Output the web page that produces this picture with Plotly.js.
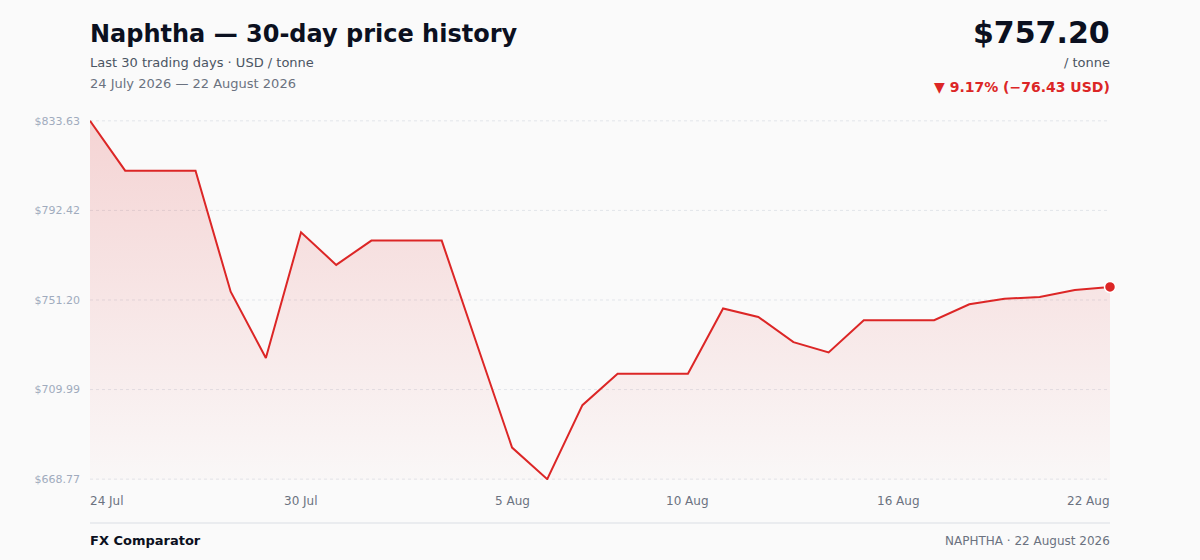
<!DOCTYPE html>
<html>
<head>
<meta charset="utf-8">
<script src="https://cdn.plot.ly/plotly-3.0.1.min.js"></script>
<style>
html,body{margin:0;padding:0;background:#fafafa;}
#chart{width:1200px;height:560px;}
</style>
</head>
<body>
<div id="chart"></div>
<script>
// ---- data ----
const dates = [
  '2026-07-24','2026-07-25','2026-07-26','2026-07-27','2026-07-28','2026-07-29',
  '2026-07-30','2026-07-31','2026-08-01','2026-08-02','2026-08-03','2026-08-04',
  '2026-08-05','2026-08-06','2026-08-07','2026-08-08','2026-08-09','2026-08-10',
  '2026-08-11','2026-08-12','2026-08-13','2026-08-14','2026-08-15','2026-08-16',
  '2026-08-17','2026-08-18','2026-08-19','2026-08-20','2026-08-21','2026-08-22'
];
const prices = [
  833.63, 810.73, 810.73, 810.73, 755.00, 724.50,
  782.34, 767.37, 778.54, 778.54, 778.54, 730.82,
  683.29, 668.77, 702.80, 717.31, 717.31, 717.31,
  747.31, 743.42, 731.83, 727.07, 741.90, 741.90,
  741.90, 749.23, 751.80, 752.57, 755.78, 757.20
];
const yTickVals = [668.77, 709.99, 751.20, 792.42, 833.63];
const yTickText = ['$668.77', '$709.99', '$751.20', '$792.42', '$833.63'];
const xTickVals = ['2026-07-24', '2026-07-30', '2026-08-05', '2026-08-10', '2026-08-16', '2026-08-22'];
const xTickText = ['24 Jul', '30 Jul', '5 Aug', '10 Aug', '16 Aug', '22 Aug'];

// ---- derived text ----
const first = prices[0], last = prices[prices.length - 1];
const diff = last - first;
const pct = Math.abs(diff / first * 100);
const changeText = (diff < 0 ? '▼ ' : '▲ ') + pct.toFixed(2) + '% (' + (diff < 0 ? '−' : '+') + Math.abs(diff).toFixed(2) + ' USD)';

const RED = '#dc2626';
const FONT = 'DejaVu Sans, Verdana, sans-serif';

const traces = [
  {
    x: dates, y: prices, type: 'scatter', mode: 'lines',
    line: {color: RED, width: 2, shape: 'linear'},
    fill: 'tozeroy',
    fillgradient: {
      type: 'vertical', start: 655, stop: 833.63,
      colorscale: [[0, 'rgba(220,38,38,0.0)'], [1, 'rgba(220,38,38,0.18)']]
    },
    hoverinfo: 'skip', showlegend: false
  },
  {
    x: [dates[dates.length - 1]], y: [last], type: 'scatter', mode: 'markers',
    marker: {color: RED, size: 11, line: {color: '#ffffff', width: 1.5}},
    cliponaxis: false, hoverinfo: 'skip', showlegend: false
  }
];

const ann = [];
function txt(text, x, y, xanchor, size, color, bold) {
  ann.push({
    text: bold ? '<b>' + text + '</b>' : text,
    xref: 'paper', yref: 'paper', x: x, y: y,
    xanchor: xanchor, yanchor: 'middle', showarrow: false,
    borderpad: 0, borderwidth: 0,
    font: {family: FONT, size: size, color: color}
  });
}
// header
txt('Last 30 trading days · USD / tonne', 0, 1.1611, 'left', 13, '#4b5563', false);
txt('24 July 2026 — 22 August 2026', 0, 1.1000, 'left', 13, '#6b7280', false);
txt('$' + last.toFixed(2), 1, 1.2444, 'right', 30, '#0b1020', true);
txt('/ tonne', 1, 1.1611, 'right', 13, '#4b5563', false);
txt(changeText, 1, 1.0917, 'right', 14, RED, true);
// footer
txt('FX Comparator', 0, -0.1694, 'left', 13, '#0b1020', true);
txt('NAPHTHA · 22 August 2026', 1, -0.1694, 'right', 12, '#6b7280', false);
// x tick labels
xTickVals.forEach((v, i) => {
  ann.push({
    text: xTickText[i], xref: 'x', yref: 'paper', x: v, y: -0.0583,
    xanchor: i === 0 ? 'left' : (i === xTickVals.length - 1 ? 'right' : 'center'),
    yanchor: 'middle', showarrow: false, borderpad: 0, borderwidth: 0,
    font: {family: FONT, size: 12, color: '#6b7280'}
  });
});

// dotted horizontal gridlines at every y tick (including range ends)
const shapes = yTickVals.map(v => ({
  type: 'line', xref: 'paper', yref: 'y', x0: 0, x1: 1, y0: v, y1: v,
  layer: 'below', line: {color: '#e2e5ea', width: 1, dash: 'dot'}
}));
shapes.push({
  type: 'line', xref: 'paper', yref: 'paper', x0: 0, x1: 1,
  y0: -0.1194, y1: -0.1194, line: {color: '#e5e7eb', width: 1.5}
});

const layout = {
  width: 1200, height: 560,
  paper_bgcolor: '#fafafa', plot_bgcolor: '#fafafa',
  margin: {l: 90, r: 90, t: 120, b: 80, pad: 0},
  font: {family: FONT},
  title: {
    text: '<b>Naphtha — 30-day price history</b>',
    x: 90 / 1200, xref: 'container', xanchor: 'left',
    y: 1 - 34 / 560, yref: 'container', yanchor: 'middle',
    font: {family: FONT, size: 24, color: '#0b1020'}
  },
  xaxis: {
    type: 'date', range: [dates[0], dates[dates.length - 1]],
    showgrid: false, zeroline: false, showline: false,
    showticklabels: false, ticks: '', fixedrange: true
  },
  yaxis: {
    range: [yTickVals[0] - 0.4, yTickVals[yTickVals.length - 1] + 0.4],
    tickmode: 'array', tickvals: yTickVals, ticktext: yTickText,
    showgrid: false,
    zeroline: false, showline: false, ticks: '',
    tickfont: {family: FONT, size: 11, color: '#a0abbd'},
    ticklabelstandoff: 9, fixedrange: true
  },
  shapes: shapes,
  annotations: ann,
  showlegend: false
};

Plotly.newPlot('chart', traces, layout, {displayModeBar: false, staticPlot: true});
</script>
</body>
</html>
